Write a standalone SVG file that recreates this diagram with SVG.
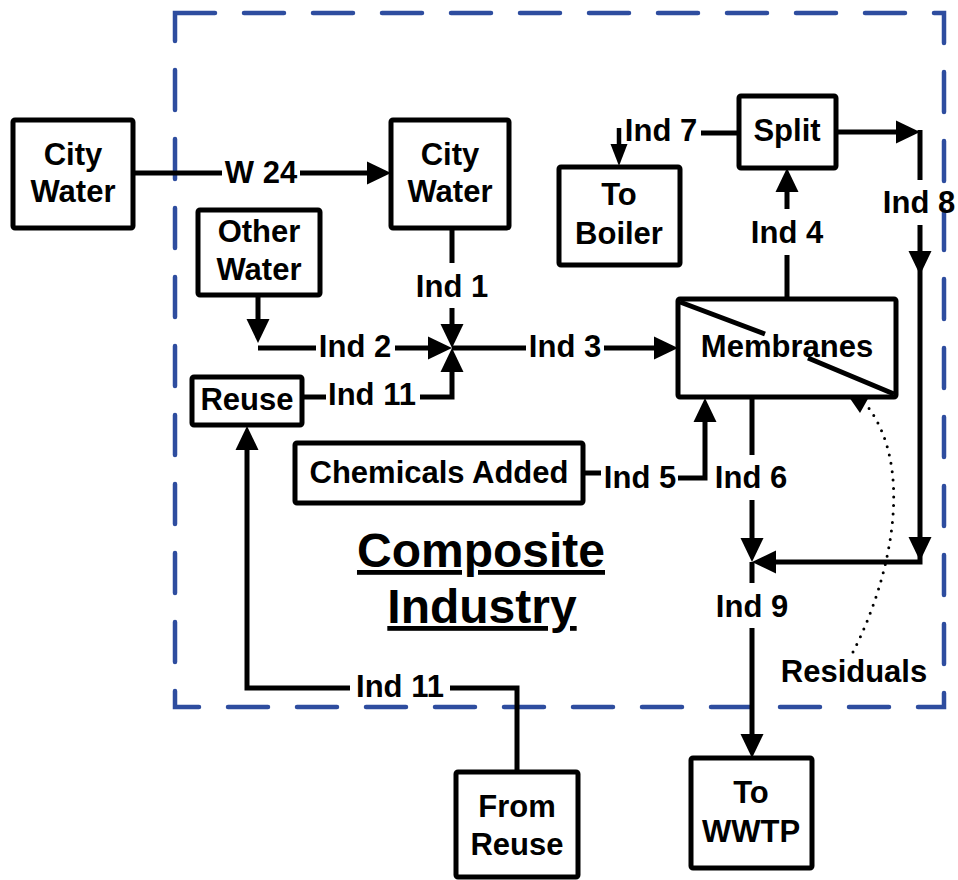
<svg xmlns="http://www.w3.org/2000/svg" xmlns:xlink="http://www.w3.org/1999/xlink" width="958" height="880" viewBox="0 0 958 880">
<style>
.box{fill:#fff;stroke:#000;stroke-width:5}
.ln{fill:none;stroke:#000;stroke-width:5}
.t{font-family:"Liberation Sans",Arial,sans-serif;font-weight:bold;font-size:31px;fill:#000;text-anchor:middle}
.big{font-size:48px;text-decoration:underline}
.dash{fill:none;stroke:#2E4D9F;stroke-width:4.5;stroke-dasharray:40 29;stroke-linecap:round}
.dot{fill:none;stroke:#000;stroke-width:3;stroke-dasharray:0 8.5;stroke-linecap:round}
</style>
<defs>
<path id="ah" d="M0,0 L-24,-11.5 L-24,11.5 Z" fill="#000"/>
<path id="ahs" d="M0,0 L-22,-8.5 L-22,8.5 Z" fill="#000"/>
</defs>
<rect width="958" height="880" fill="#fff"/>
<path class="dash" d="M175,13 H944 V707 H175 Z"/>

<g id="connectors">
<!-- W 24 -->
<path class="ln" d="M133,173 H222 M300,173 H372"/>
<use xlink:href="#ah" transform="translate(391,173)"/>
<!-- Ind 1 -->
<path class="ln" d="M452,228 V263 M452,308 V330"/>
<use xlink:href="#ah" transform="translate(452,348) rotate(90)"/>
<!-- Ind 2 -->
<path class="ln" d="M258,295 V330 M258,348 H316 M395,348 H432"/>
<use xlink:href="#ah" transform="translate(258,343) rotate(90)"/>
<use xlink:href="#ah" transform="translate(452,348)"/>
<!-- Ind 11 upper -->
<path class="ln" d="M302,397 H326 M420,397 H452 V368"/>
<use xlink:href="#ah" transform="translate(452,348) rotate(-90)"/>
<!-- Ind 3 -->
<path class="ln" d="M452,348 H526 M604,348 H660"/>
<use xlink:href="#ah" transform="translate(678,348)"/>
<!-- Ind 4 -->
<path class="ln" d="M787,299 V255 M787,209 V188"/>
<use xlink:href="#ah" transform="translate(787,168) rotate(-90)"/>
<!-- Ind 7 -->
<path class="ln" d="M738,133 H701"/>
<path d="M619,128 V150" fill="none" stroke="#000" stroke-width="4.5"/>
<use xlink:href="#ahs" transform="translate(619,166) rotate(90)"/>
<!-- Ind 8 -->
<path class="ln" d="M837,132 H900"/>
<use xlink:href="#ah" transform="translate(920,132)"/>
<path class="ln" d="M920,130 V180 M920,225 V562 H770"/>
<use xlink:href="#ah" transform="translate(920,275) rotate(90)"/>
<use xlink:href="#ah" transform="translate(920,561) rotate(90)"/>
<use xlink:href="#ah" transform="translate(752,562) rotate(180)"/>
<!-- Ind 5 -->
<path class="ln" d="M583,473 H601 M678,478 H705 V415"/>
<use xlink:href="#ah" transform="translate(705,398) rotate(-90)"/>
<!-- Ind 6 -->
<path class="ln" d="M752,397 V455 M752,500 V545"/>
<use xlink:href="#ah" transform="translate(752,562) rotate(90)"/>
<!-- Ind 9 -->
<path class="ln" d="M752,562 V583 M752,628 V742"/>
<use xlink:href="#ah" transform="translate(752,758) rotate(90)"/>
<!-- Ind 11 lower -->
<path class="ln" d="M517,772 V688 H450 M350,688 H247 V440"/>
<use xlink:href="#ah" transform="translate(247,426) rotate(-90)"/>
<!-- Residuals -->
<path class="dot" d="M853,652 C890,580 915,470 868,407"/>
<path d="M849,397 L869,397 L860,413 Z" fill="#000"/>
</g>

<g id="city-water-src">
<rect class="box" x="13" y="120" width="120" height="108" rx="2"/>
<text class="t" x="73" y="165">City</text>
<text class="t" x="73" y="202">Water</text>
</g>
<g id="city-water">
<rect class="box" x="391" y="120" width="118" height="108" rx="2"/>
<text class="t" x="450" y="165">City</text>
<text class="t" x="450" y="202">Water</text>
</g>
<g id="other-water">
<rect class="box" x="198" y="210" width="122" height="85" rx="2"/>
<text class="t" x="259" y="242">Other</text>
<text class="t" x="259" y="280">Water</text>
</g>
<g id="reuse">
<rect class="box" x="192" y="377" width="110" height="48" rx="2"/>
<text class="t" x="247" y="410">Reuse</text>
</g>
<g id="membranes">
<rect class="box" x="678" y="299" width="218" height="98" rx="2"/>
<path class="ln" d="M680,302 L765,334 M808,358 L894,394"/>
<text class="t" x="787" y="357">Membranes</text>
</g>
<g id="split">
<rect class="box" x="739" y="96" width="97" height="72" rx="2"/>
<text class="t" x="787" y="141">Split</text>
</g>
<g id="to-boiler">
<rect class="box" x="559" y="167" width="121" height="98" rx="2"/>
<text class="t" x="619" y="205">To</text>
<text class="t" x="619" y="244">Boiler</text>
</g>
<g id="chemicals">
<rect class="box" x="295" y="443" width="288" height="60" rx="2"/>
<text class="t" x="439" y="483">Chemicals Added</text>
</g>
<g id="to-wwtp">
<rect class="box" x="691" y="758" width="121" height="110" rx="2"/>
<text class="t" x="751" y="803">To</text>
<text class="t" x="751" y="842">WWTP</text>
</g>
<g id="from-reuse">
<rect class="box" x="456" y="772" width="122" height="105" rx="2"/>
<text class="t" x="517" y="817">From</text>
<text class="t" x="517" y="855">Reuse</text>
</g>

<g id="labels">
<text class="t" x="261" y="183">W 24</text>
<text class="t" x="452" y="297">Ind 1</text>
<text class="t" x="355" y="357">Ind 2</text>
<text class="t" x="372" y="405">Ind 11</text>
<text class="t" x="565" y="357">Ind 3</text>
<text class="t" x="787" y="243">Ind 4</text>
<text class="t" x="661" y="141">Ind 7</text>
<text class="t" x="919" y="213">Ind 8</text>
<text class="t" x="640" y="488">Ind 5</text>
<text class="t" x="751" y="488">Ind 6</text>
<text class="t" x="752" y="617">Ind 9</text>
<text class="t" x="854" y="682">Residuals</text>
<text class="t" x="400" y="697">Ind 11</text>
<text class="t big" x="481" y="567">Composite</text>
<text class="t big" x="482" y="623">Industry</text>
</g>
</svg>
